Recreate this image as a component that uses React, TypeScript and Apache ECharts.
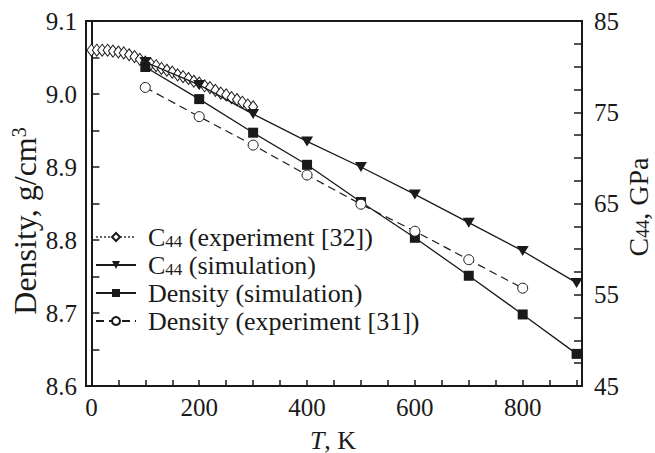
import React, { useEffect, useRef } from "react";
import * as echarts from "echarts";

const simT = [100, 200, 300, 400, 500, 600, 700, 800, 900];
const c44Sim = [80.5, 78.0, 74.8, 71.8, 69.0, 66.0, 62.9, 59.8, 56.3];
const densitySim = [9.037, 8.993, 8.947, 8.903, 8.852, 8.803, 8.751, 8.698, 8.644];
const densExpT = [100, 200, 300, 400, 500, 600, 700, 800];
const densityExp = [9.009, 8.969, 8.93, 8.889, 8.849, 8.812, 8.773, 8.734];
const c44ExpT = [
  0, 10, 20, 30, 40, 50, 60, 70, 80, 90, 100, 110, 120, 130, 140, 150, 160,
  170, 180, 190, 200, 210, 220, 230, 240, 250, 260, 270, 280, 290, 300,
];
const c44Exp = [
  81.8, 81.8, 81.8, 81.8, 81.7, 81.6, 81.5, 81.3, 81.1, 80.8, 80.5, 80.3, 80.1,
  79.8, 79.6, 79.4, 79.1, 78.9, 78.7, 78.4, 78.2, 77.9, 77.7, 77.4, 77.1, 76.9,
  76.6, 76.4, 76.1, 75.8, 75.6,
];
const xTicks = [0, 50, 100, 150, 200, 250, 300, 350, 400, 450, 500, 550, 600, 650, 700, 750, 800, 850, 900];
const xLabels = [0, 200, 400, 600, 800];
const leftTicks = [8.6, 8.65, 8.7, 8.75, 8.8, 8.85, 8.9, 8.95, 9.0, 9.05, 9.1];
const leftLabels = [8.6, 8.7, 8.8, 8.9, 9.0, 9.1];
const rightTicks = [45, 47.5, 50, 52.5, 55, 57.5, 60, 62.5, 65, 67.5, 70, 72.5, 75, 77.5, 80, 82.5, 85];
const rightLabels = [45, 55, 65, 75, 85];

const names = [
  "C44 (experiment [32])",
  "C44 (simulation)",
  "Density (simulation)",
  "Density (experiment [31])",
];

const FONT = "Liberation Serif";
const INK = "#1a1a1a";

const zip = (xs: number[], ys: number[]) => xs.map((x, i) => [x, ys[i]]);

export default function App() {
  const ref = useRef<HTMLDivElement>(null);
  useEffect(() => {
    if (!ref.current) return;
    const chart = echarts.init(ref.current, undefined, { renderer: "svg" });
    const legRich = {
      n: { fontFamily: FONT, fontSize: 26, lineHeight: 26, color: INK },
      s: { fontFamily: FONT, fontSize: 17, lineHeight: 14, color: INK, verticalAlign: "bottom" },
    };
    const leftRich = {
      n: { fontFamily: FONT, fontSize: 32, lineHeight: 32, color: INK },
      sup: { fontFamily: FONT, fontSize: 20, lineHeight: 17, color: INK, verticalAlign: "top" },
    };
    const rightRich = {
      n: { fontFamily: FONT, fontSize: 28, lineHeight: 28, color: INK },
      s: { fontFamily: FONT, fontSize: 18, lineHeight: 15, color: INK, verticalAlign: "bottom" },
    };
    const botRich = {
      n: { fontFamily: FONT, fontSize: 26, lineHeight: 26, color: INK },
      i: { fontFamily: FONT, fontSize: 26, lineHeight: 26, color: INK, fontStyle: "italic" },
    };
    const axisLabelBase = { fontFamily: FONT, fontSize: 25, color: INK };
    chart.setOption({
      animation: false,
      backgroundColor: "#fff",
      grid: {
        left: 86,
        right: 73,
        top: 21,
        bottom: 67,
        show: true,
        borderColor: INK,
        borderWidth: 2,
        backgroundColor: "transparent",
      },
      legend: {
        orient: "vertical",
        left: 90,
        top: 219,
        itemWidth: 40,
        itemHeight: 10,
        itemGap: 2,
        data: names,
        formatter: (name: string) =>
          name.startsWith("C44")
            ? `{n|C}{s|44}{n|${name.slice(3)}}`
            : `{n|${name}}`,
        textStyle: { ...axisLabelBase, fontSize: 26, padding: [0, 0, 0, 7], rich: legRich },
      },
      xAxis: {
        type: "value",
        min: -10,
        max: 910,
        axisLine: { show: true, lineStyle: { color: INK, width: 2 } },
        axisTick: { show: true, inside: true, length: 6, customValues: xTicks, lineStyle: { color: INK, width: 1.5 } },
        axisLabel: { ...axisLabelBase, margin: 9, customValues: xLabels },
        splitLine: { show: false },
      },
      yAxis: [
        {
          type: "value",
          min: 8.6,
          max: 9.1,
          position: "left",
          axisLine: { show: true, lineStyle: { color: INK, width: 2 } },
          axisTick: { show: true, inside: true, length: 8, customValues: leftTicks, lineStyle: { color: INK, width: 1.5 } },
          axisLabel: {
            ...axisLabelBase,
            margin: 9,
            customValues: leftLabels,
            formatter: (v: number) => v.toFixed(1),
          },
          splitLine: { show: false },
        },
        {
          type: "value",
          min: 45,
          max: 85,
          position: "right",
          axisLine: { show: true, lineStyle: { color: INK, width: 2 } },
          axisTick: { show: true, inside: true, length: 8, customValues: rightTicks, lineStyle: { color: INK, width: 1.5 } },
          axisLabel: { ...axisLabelBase, margin: 12, customValues: rightLabels },
          splitLine: { show: false },
        },
      ],
      graphic: [
        {
          type: "text",
          x: 25,
          y: 221,
          rotation: Math.PI / 2,
          style: {
            text: "{n|Density, g/cm}{sup|3}",
            rich: leftRich,
            align: "center",
            verticalAlign: "middle",
            fill: INK,
          },
        },
        {
          type: "text",
          x: 638,
          y: 207,
          rotation: Math.PI / 2,
          style: {
            text: "{n|C}{s|44}{n|, GPa}",
            rich: rightRich,
            align: "center",
            verticalAlign: "middle",
            fill: INK,
          },
        },
        {
          type: "text",
          x: 333,
          y: 440,
          style: {
            text: "{i|T}{n|, K}",
            rich: botRich,
            align: "center",
            verticalAlign: "middle",
            fill: INK,
          },
        },
      ],
      series: [
        {
          name: names[0],
          type: "line",
          yAxisIndex: 1,
          data: zip(c44ExpT, c44Exp),
          symbol: "diamond",
          symbolSize: [9, 12],
          itemStyle: { color: "#fff", borderColor: INK, borderWidth: 1 },
          lineStyle: { color: "#666", width: 1, type: "dotted" },
          z: 2,
        },
        {
          name: names[1],
          type: "line",
          yAxisIndex: 1,
          data: zip(simT, c44Sim),
          symbol: "triangle",
          symbolRotate: 180,
          symbolSize: [12, 10],
          itemStyle: { color: INK },
          lineStyle: { color: INK, width: 1.3 },
          z: 3,
        },
        {
          name: names[2],
          type: "line",
          yAxisIndex: 0,
          data: zip(simT, densitySim),
          symbol: "rect",
          symbolSize: 10,
          itemStyle: { color: INK },
          lineStyle: { color: INK, width: 1.3 },
          z: 3,
        },
        {
          name: names[3],
          type: "line",
          yAxisIndex: 0,
          data: zip(densExpT, densityExp),
          symbol: "circle",
          symbolSize: 10,
          itemStyle: { color: "#fff", borderColor: INK, borderWidth: 1 },
          lineStyle: { color: INK, width: 1.2, type: [8, 5] },
          z: 3,
        },
      ],
    });
    return () => chart.dispose();
  }, []);
  return (
    <div
      ref={ref}
      style={{ position: "absolute", left: 0, top: 0, width: 655, height: 453 }}
    />
  );
}
